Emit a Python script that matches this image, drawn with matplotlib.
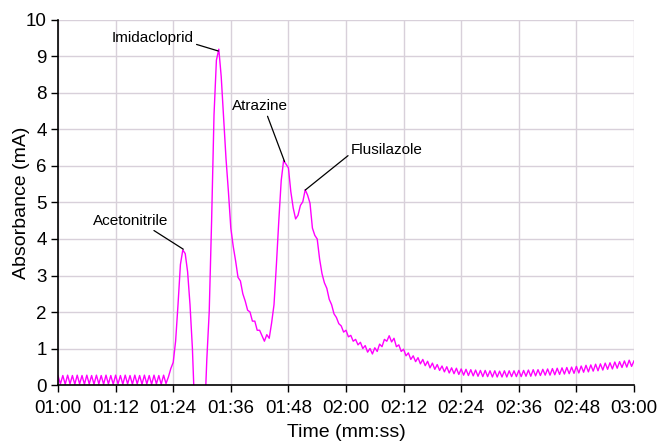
import numpy as np
import matplotlib.pyplot as plt

plt.rcParams['font.family'] = ['Liberation Sans', 'DejaVu Sans']

# sample clock: one reading every 0.5 s from 01:00 to 03:00
time_s = np.linspace(60, 180, 241)

# absorbance (mA), 10 readings per row (5 s)
absorbance = [
    0.25, 0.03, 0.26, 0.02, 0.27, 0.03, 0.26, 0.02, 0.27, 0.03,
    0.26, 0.02, 0.27, 0.03, 0.26, 0.02, 0.27, 0.03, 0.26, 0.02,
    0.27, 0.03, 0.26, 0.02, 0.27, 0.03, 0.26, 0.02, 0.27, 0.03,
    0.26, 0.02, 0.27, 0.03, 0.26, 0.02, 0.27, 0.03, 0.26, 0.02,
    0.27, 0.03, 0.26, 0.02, 0.27, 0.04, 0.22, 0.45, 0.62, 1.2,
    2.2, 3.3, 3.7, 3.6, 3.1, 2.2, 1.0, -0.8, -2.0, -2.0,
    -2.0, -1.0, 0.7, 2.0, 4.5, 7.4, 8.9, 9.2, 8.45, 7.3,
    6.2, 5.3, 4.3, 3.8, 3.4, 2.95, 2.85, 2.5, 2.3, 2.05,
    2.0, 1.75, 1.75, 1.5, 1.5, 1.35, 1.2, 1.38, 1.28, 1.7,
    2.2, 3.3, 4.5, 5.6, 6.15, 6.05, 5.95, 5.3, 4.85, 4.55,
    4.65, 4.92, 5.02, 5.35, 5.2, 4.98, 4.3, 4.1, 4.0, 3.45,
    3.05, 2.8, 2.65, 2.35, 2.2, 1.95, 1.85, 1.68, 1.62, 1.45,
    1.5, 1.32, 1.36, 1.2, 1.25, 1.1, 1.17, 1.0, 1.08, 0.9,
    1.0, 0.85, 1.02, 0.92, 1.12, 1.05, 1.25, 1.2, 1.35, 1.18,
    1.28, 1.05, 1.1, 0.92, 0.98, 0.8, 0.88, 0.7, 0.8, 0.64,
    0.75, 0.58, 0.7, 0.53, 0.65, 0.47, 0.6, 0.43, 0.56, 0.4,
    0.52, 0.36, 0.5, 0.33, 0.47, 0.31, 0.46, 0.29, 0.44, 0.27,
    0.43, 0.26, 0.42, 0.25, 0.41, 0.24, 0.40, 0.23, 0.40, 0.23,
    0.39, 0.22, 0.39, 0.22, 0.38, 0.22, 0.39, 0.22, 0.39, 0.23,
    0.39, 0.23, 0.40, 0.23, 0.40, 0.24, 0.41, 0.24, 0.42, 0.25,
    0.42, 0.26, 0.43, 0.27, 0.44, 0.27, 0.45, 0.28, 0.46, 0.29,
    0.47, 0.30, 0.48, 0.31, 0.49, 0.32, 0.51, 0.33, 0.52, 0.35,
    0.54, 0.36, 0.55, 0.38, 0.57, 0.39, 0.58, 0.41, 0.60, 0.43,
    0.61, 0.44, 0.63, 0.46, 0.64, 0.48, 0.66, 0.49, 0.68, 0.51,
    0.66,
]

x_ticks = [60, 72, 84, 96, 108, 120, 132, 144, 156, 168, 180]
x_labels = ['01:00', '01:12', '01:24', '01:36', '01:48', '02:00',
            '02:12', '02:24', '02:36', '02:48', '03:00']
y_ticks = [0, 1, 2, 3, 4, 5, 6, 7, 8, 9, 10]
y_labels = ['0', '1', '2', '3', '4', '5', '6', '4', '8', '9', '10']  # as printed

# peak labels: name, peak (t, A), label position (t, A), line anchor on text
peaks = ['Acetonitrile', 'Imidacloprid', 'Atrazine', 'Flusilazole']
peak_xy = [(86.1, 3.72), (93.4, 9.15), (107.2, 6.12), (111.5, 5.34)]
label_xy = [(67.3, 4.5), (71.2, 9.52), (96.2, 7.63), (121.0, 6.44)]
label_rel = [(0.75, 0.0), (0.98, 0.1), (0.62, 0.0), (0.0, 0.25)]

fig = plt.figure(figsize=(6.6, 4.43), dpi=100)
ax = fig.add_axes([0.0879, 0.1309, 0.8727, 0.824])

ax.plot(time_s, absorbance, color='#ff00ff', lw=1.0, clip_on=True)

for name, xy, txy, rel in zip(peaks, peak_xy, label_xy, label_rel):
    ax.annotate(name, xy=xy, xytext=txy, fontsize=11, ha='left', va='center',
                arrowprops=dict(arrowstyle='-', color='black', lw=0.9,
                                shrinkA=0, shrinkB=0, relpos=rel))

ax.set_xlim(60, 180)
ax.set_ylim(0, 10)
ax.set_xticks(x_ticks)
ax.set_xticklabels(x_labels)
ax.set_yticks(y_ticks)
ax.set_yticklabels(y_labels)
ax.tick_params(labelsize=13.5, length=5, width=1, direction='out')
ax.tick_params(axis='x', pad=5.5)
ax.tick_params(axis='y', pad=3)
ax.grid(True, color='#d8d0da', lw=1)
ax.set_axisbelow(True)
for s in ['top', 'right']:
    ax.spines[s].set_visible(False)
for s in ['left', 'bottom']:
    ax.spines[s].set_linewidth(1.2)

ax.set_xlabel('Time (mm:ss)', fontsize=14, labelpad=5.5)
ax.set_ylabel('Absorbance (mA)', fontsize=14, labelpad=-3)

fig.savefig('out.png', dpi=100)
